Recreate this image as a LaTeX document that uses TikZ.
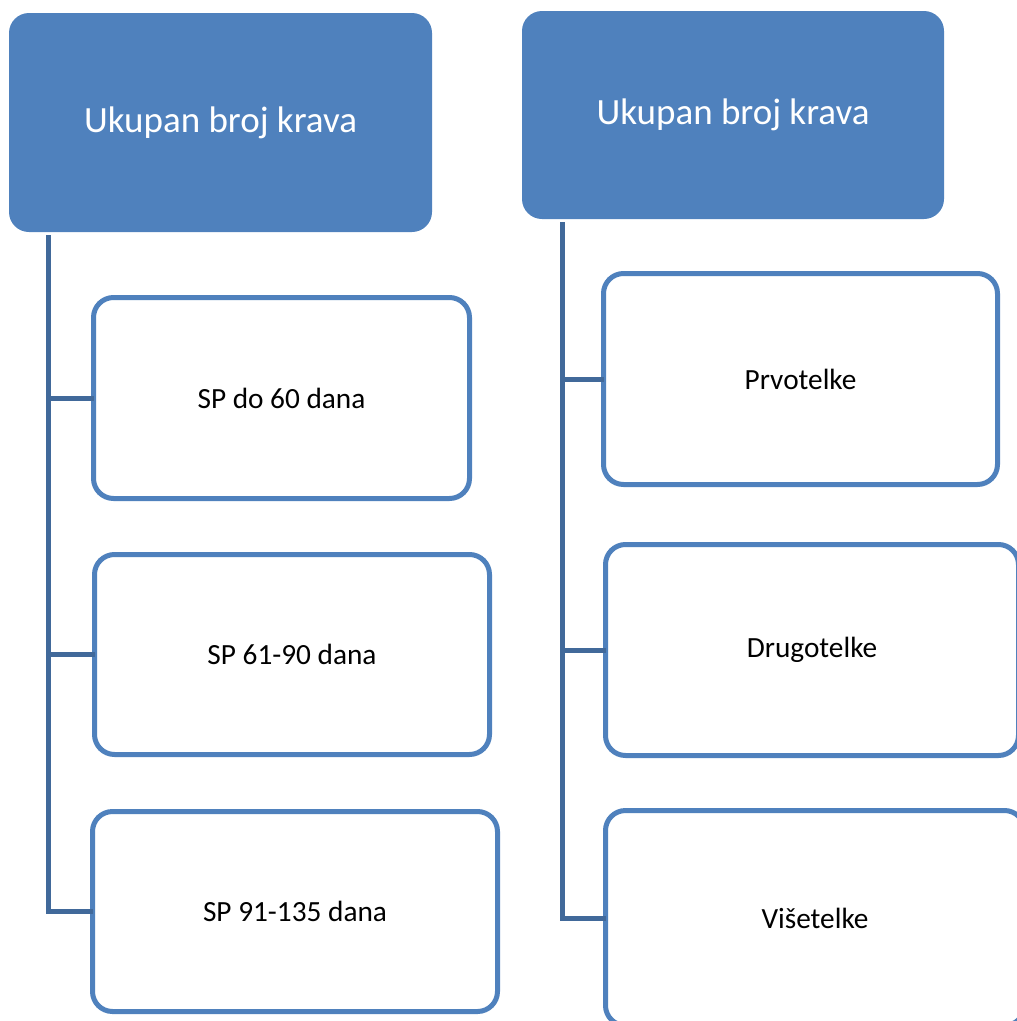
\documentclass[tikz,border=0pt]{standalone}
\usepackage{fontspec}
\setmainfont{Carlito}
\definecolor{hdrblue}{HTML}{4F81BD}
\definecolor{linkblue}{HTML}{41699A}
\tikzset{
  header/.style={fill=hdrblue, rounded corners=20pt, text=white, font=\fontsize{37}{41}\selectfont, inner sep=0pt, outer sep=0pt},
  child/.style={draw=hdrblue, line width=5pt, fill=white, rounded corners=20pt, text=black, font=\fontsize{29.3}{34}\selectfont, inner sep=0pt, outer sep=0pt},
  link/.style={draw=linkblue, line width=5pt}
}
\begin{document}
\begin{tikzpicture}[x=1pt, y=-1pt]
\useasboundingbox (0,0) rectangle (1017,1021);
\clip (0,0) rectangle (1017,1021);
% left column
\node[header, minimum width=423pt, minimum height=219pt] (Lh) at (220.5,122.5) {Ukupan broj krava};
\node[child, minimum width=376pt, minimum height=201pt] (L1) at (281.5,398) {SP do 60 dana};
\node[child, minimum width=395pt, minimum height=200pt] (L2) at (292,654.5) {SP 61-90 dana};
\node[child, minimum width=405pt, minimum height=200pt] (L3) at (295,911.5) {SP 91-135 dana};
\coordinate (Ltop) at (48,235);
\draw[link] (Ltop) |- (L3.west);
\draw[link] (Ltop |- L1.west) -- (L1.west);
\draw[link] (Ltop |- L2.west) -- (L2.west);
% right column
\node[header, minimum width=422pt, minimum height=208pt] (Rh) at (733,115) {Ukupan broj krava};
\node[child, minimum width=394pt, minimum height=211pt] (R1) at (800.5,379) {Prvotelke};
\node[child, minimum width=413pt, minimum height=211pt] (R2) at (812,650) {Drugotelke};
\node[child, minimum width=419pt, minimum height=215pt] (R3) at (815,918) {Višetelke};
\coordinate (Rtop) at (562,222);
\draw[link] (Rtop) |- (R3.west);
\draw[link] (Rtop |- R1.west) -- (R1.west);
\draw[link] (Rtop |- R2.west) -- (R2.west);
\end{tikzpicture}
\end{document}
